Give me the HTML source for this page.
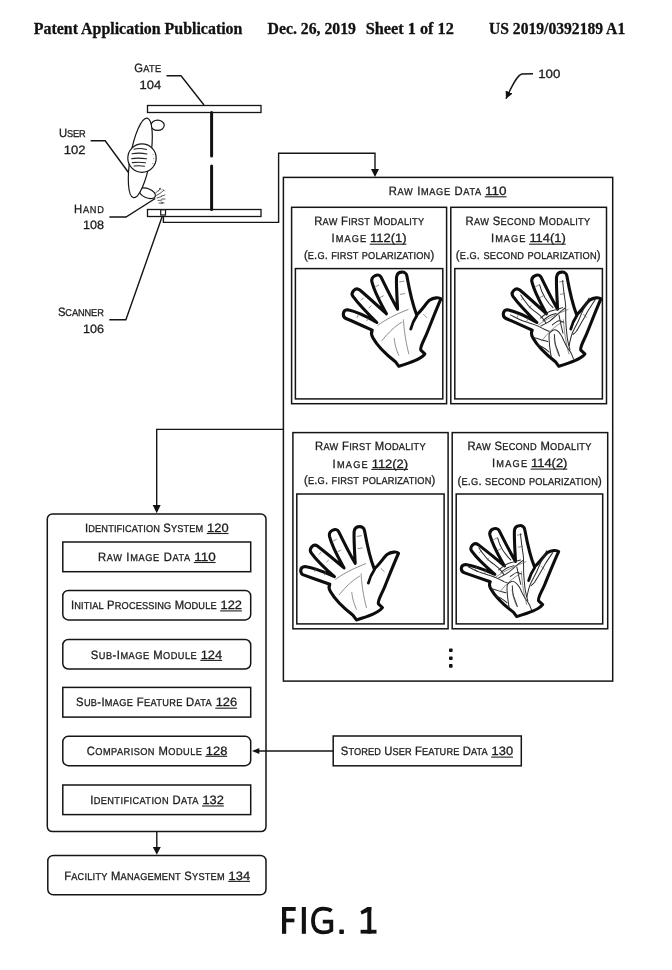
<!DOCTYPE html>
<html><head><meta charset="utf-8">
<style>
html,body{margin:0;padding:0;background:#fff;}
body{width:672px;height:970px;overflow:hidden;position:relative;}
svg{position:absolute;left:0;top:0;display:block;will-change:transform;}
.hd{font-family:"Liberation Serif",serif;font-weight:bold;font-size:16.3px;fill:#111;stroke:#111;stroke-width:0.3;}
.t{text-rendering:geometricPrecision;font-family:"Liberation Sans",sans-serif;fill:#1c1c1c;stroke:#1c1c1c;stroke-width:0.3;}
.u{text-decoration:underline;text-decoration-skip-ink:none;}
.ln{fill:none;stroke:#151515;stroke-width:1.4;}
.bx{fill:none;stroke:#151515;stroke-width:1.5;}
.hand{fill:#fff;stroke:#0d0d0d;stroke-linejoin:round;stroke-linecap:round;}
.crease{fill:none;stroke:#555;stroke-linecap:round;}
.vein{fill:none;stroke:#2a2a2a;stroke-linecap:round;}
</style></head><body>
<svg width="672" height="970" viewBox="0 0 672 970">
<defs>
<marker id="ah" viewBox="0 0 10 10" refX="10" refY="5" markerWidth="7.5" markerHeight="7.5" orient="auto" markerUnits="userSpaceOnUse">
<path d="M0,0 L10,5 L0,10 z" fill="#111"/>
</marker>
<g id="handA"><path class="hand" stroke-width="20" d="M208 402 C160 380 95 350 42 328 C12 316 15 270 50 270 C110 282 180 318 238 352 C190 305 125 240 85 185 C65 158 100 120 128 142 C185 190 250 250 300 296 C270 240 225 165 206 90 C198 50 252 30 266 60 C300 130 340 210 372 266 C368 180 363 120 365 60 C368 18 428 15 432 52 C447 135 467 232 495 302 C528 275 550 235 578 208 C605 190 640 188 652 200 C625 260 592 345 562 420 C542 470 515 510 522 530 L548 555 C520 590 460 610 380 635 L358 605 C300 560 240 500 212 450 C200 430 203 412 208 402 Z"/><path class="crease" stroke-width="4.5" stroke-dasharray="6 5" d="M245 370 C300 330 360 300 440 268"/><path class="crease" stroke-width="4.5" stroke-dasharray="6 5" d="M270 470 C310 420 350 380 400 350"/><path class="crease" stroke-width="4.5" stroke-dasharray="6 5" d="M350 455 C355 500 365 530 380 565"/><path class="crease" stroke-width="4.5" stroke-dasharray="6 5" d="M410 335 C415 420 430 500 445 555"/><path class="crease" stroke-width="4.5" stroke-dasharray="6 5" d="M120 300 L110 320"/><path class="crease" stroke-width="4.5" stroke-dasharray="6 5" d="M180 325 L172 345"/><path class="crease" stroke-width="4.5" stroke-dasharray="6 5" d="M150 195 L135 210"/><path class="crease" stroke-width="4.5" stroke-dasharray="6 5" d="M200 245 L185 260"/><path class="crease" stroke-width="4.5" stroke-dasharray="6 5" d="M230 120 L250 110"/><path class="crease" stroke-width="4.5" stroke-dasharray="6 5" d="M260 190 L280 180"/><path class="crease" stroke-width="4.5" stroke-dasharray="6 5" d="M385 90 L415 85"/><path class="crease" stroke-width="4.5" stroke-dasharray="6 5" d="M390 170 L420 165"/><path class="crease" stroke-width="4.5" stroke-dasharray="6 5" d="M540 300 L560 320"/><path fill="none" stroke="#0d0d0d" stroke-width="18" stroke-linecap="round" d="M457 395 C463 372 478 334 497 306"/></g><g id="handB"><path class="hand" stroke-width="20" d="M208 402 C160 380 95 350 42 328 C12 316 15 270 50 270 C110 282 180 318 238 352 C190 305 125 240 85 185 C65 158 100 120 128 142 C185 190 250 250 300 296 C270 240 225 165 206 90 C198 50 252 30 266 60 C300 130 340 210 372 266 C368 180 363 120 365 60 C368 18 428 15 432 52 C447 135 467 232 495 302 C528 275 550 235 578 208 C605 190 640 188 652 200 C625 260 592 345 562 420 C542 470 515 510 522 530 L548 555 C520 590 460 610 380 635 L358 605 C300 560 240 500 212 450 C200 430 203 412 208 402 Z"/><path class="vein" stroke-width="6.5" d="M331 575 C329 562 322 522 320 497 C318 473 315 442 318 426 C322 410 334 406 342 402 C351 398 360 399 368 404 C377 409 387 422 394 433 C402 444 407 459 413 472 C420 484 425 497 433 510 C440 523 452 536 459 549 C466 562 472 581 475 588"/><path class="vein" stroke-width="6.5" d="M351 429 C352 439 353 471 357 488 C360 505 367 516 371 530 C376 543 382 562 384 568"/><path class="vein" stroke-width="6.5" d="M338 368 C345 364 366 344 378 341 C390 338 406 350 412 351"/><path class="vein" stroke-width="6.5" d="M264 375 C274 369 304 356 324 341 C345 327 369 301 385 287 C401 274 413 265 419 260"/><path class="vein" stroke-width="6.5" d="M404 81 C405 90 408 116 410 134 C412 152 415 171 417 189 C420 207 422 217 424 242 C425 268 424 310 425 341 C426 372 430 406 432 429 C434 451 435 459 439 476 C442 493 450 521 452 530"/><path class="vein" stroke-width="6.5" d="M575 194 C570 205 554 234 543 258 C531 283 519 314 506 342 C493 370 475 400 465 426 C455 453 449 490 446 503"/><path class="vein" stroke-width="6.5" d="M614 207 C606 219 582 255 568 278 C555 300 546 319 533 341 C520 363 503 394 493 409 C482 423 475 426 472 429"/><path class="vein" stroke-width="6.5" d="M67 303 C78 308 113 327 134 336 C156 345 176 350 195 357 C214 363 232 369 249 377 C266 384 286 395 297 401 C309 406 314 407 318 409"/><path class="vein" stroke-width="6.5" d="M134 174 C139 181 151 202 162 215 C172 229 184 245 195 256 C206 267 216 273 229 283 C241 293 258 305 269 317 C281 329 293 348 297 355"/><path class="vein" stroke-width="6.5" d="M256 108 C258 115 264 135 269 149 C275 162 282 175 289 189 C297 202 308 217 317 229 C325 240 338 251 342 256"/><path class="vein" stroke-width="6.5" d="M262 323 C271 316 300 292 317 283 C333 274 349 274 363 269 C378 265 397 258 404 256"/><path class="vein" stroke-width="6.5" d="M278 339 C284 334 303 318 317 310 C331 303 354 297 362 294"/><path class="vein" stroke-width="6.5" d="M216 449 C224 451 248 458 264 463 C279 467 302 474 310 476"/><path class="vein" stroke-width="6.5" d="M245 497 C252 501 272 509 284 517 C296 524 311 538 317 543"/><path class="vein" stroke-width="6.5" d="M381 304 C383 314 390 349 394 368 C398 388 405 411 407 420"/><path class="crease" stroke-width="4.5" stroke-dasharray="6 5" d="M245 370 C300 330 360 300 440 268"/><path class="crease" stroke-width="4.5" stroke-dasharray="6 5" d="M270 470 C310 420 350 380 400 350"/><path class="crease" stroke-width="4.5" stroke-dasharray="6 5" d="M350 455 C355 500 365 530 380 565"/><path class="crease" stroke-width="4.5" stroke-dasharray="6 5" d="M410 335 C415 420 430 500 445 555"/><path class="crease" stroke-width="4.5" stroke-dasharray="6 5" d="M120 300 L110 320"/><path class="crease" stroke-width="4.5" stroke-dasharray="6 5" d="M180 325 L172 345"/><path class="crease" stroke-width="4.5" stroke-dasharray="6 5" d="M150 195 L135 210"/><path class="crease" stroke-width="4.5" stroke-dasharray="6 5" d="M200 245 L185 260"/><path class="crease" stroke-width="4.5" stroke-dasharray="6 5" d="M230 120 L250 110"/><path class="crease" stroke-width="4.5" stroke-dasharray="6 5" d="M260 190 L280 180"/><path class="crease" stroke-width="4.5" stroke-dasharray="6 5" d="M385 90 L415 85"/><path class="crease" stroke-width="4.5" stroke-dasharray="6 5" d="M390 170 L420 165"/><path class="crease" stroke-width="4.5" stroke-dasharray="6 5" d="M540 300 L560 320"/><path fill="none" stroke="#0d0d0d" stroke-width="18" stroke-linecap="round" d="M457 395 C463 372 478 334 497 306"/></g><g id="handA2"><path class="hand" stroke-width="20" d="M208 402 C160 385 95 362 42 343 C12 333 12 288 48 286 C110 295 180 325 238 352 C190 310 125 250 88 197 C70 170 102 133 130 154 C185 198 250 252 300 296 C270 240 225 165 206 90 C198 50 252 30 266 60 C300 130 340 210 372 266 C368 180 363 120 365 60 C368 18 428 15 432 52 C447 135 467 232 495 302 C528 275 550 235 578 208 C605 190 640 188 652 200 C625 260 592 345 562 420 C542 470 515 510 522 530 L548 555 C520 590 460 610 380 635 L358 605 C300 560 240 500 212 450 C200 430 203 412 208 402 Z"/><path class="crease" stroke-width="4.5" stroke-dasharray="6 5" d="M245 370 C300 330 360 300 440 268"/><path class="crease" stroke-width="4.5" stroke-dasharray="6 5" d="M270 470 C310 420 350 380 400 350"/><path class="crease" stroke-width="4.5" stroke-dasharray="6 5" d="M350 455 C355 500 365 530 380 565"/><path class="crease" stroke-width="4.5" stroke-dasharray="6 5" d="M410 335 C415 420 430 500 445 555"/><path class="crease" stroke-width="4.5" stroke-dasharray="6 5" d="M120 300 L110 320"/><path class="crease" stroke-width="4.5" stroke-dasharray="6 5" d="M180 325 L172 345"/><path class="crease" stroke-width="4.5" stroke-dasharray="6 5" d="M150 195 L135 210"/><path class="crease" stroke-width="4.5" stroke-dasharray="6 5" d="M200 245 L185 260"/><path class="crease" stroke-width="4.5" stroke-dasharray="6 5" d="M230 120 L250 110"/><path class="crease" stroke-width="4.5" stroke-dasharray="6 5" d="M260 190 L280 180"/><path class="crease" stroke-width="4.5" stroke-dasharray="6 5" d="M385 90 L415 85"/><path class="crease" stroke-width="4.5" stroke-dasharray="6 5" d="M390 170 L420 165"/><path class="crease" stroke-width="4.5" stroke-dasharray="6 5" d="M540 300 L560 320"/><path fill="none" stroke="#0d0d0d" stroke-width="18" stroke-linecap="round" d="M457 395 C463 372 478 334 497 306"/></g><g id="handB2"><path class="hand" stroke-width="20" d="M208 402 C160 385 95 362 42 343 C12 333 12 288 48 286 C110 295 180 325 238 352 C190 310 125 250 88 197 C70 170 102 133 130 154 C185 198 250 252 300 296 C270 240 225 165 206 90 C198 50 252 30 266 60 C300 130 340 210 372 266 C368 180 363 120 365 60 C368 18 428 15 432 52 C447 135 467 232 495 302 C528 275 550 235 578 208 C605 190 640 188 652 200 C625 260 592 345 562 420 C542 470 515 510 522 530 L548 555 C520 590 460 610 380 635 L358 605 C300 560 240 500 212 450 C200 430 203 412 208 402 Z"/><path class="vein" stroke-width="6.5" d="M331 575 C329 562 322 522 320 497 C318 473 315 442 318 426 C322 410 334 406 342 402 C351 398 360 399 368 404 C377 409 387 422 394 433 C402 444 407 459 413 472 C420 484 425 497 433 510 C440 523 452 536 459 549 C466 562 472 581 475 588"/><path class="vein" stroke-width="6.5" d="M351 429 C352 439 353 471 357 488 C360 505 367 516 371 530 C376 543 382 562 384 568"/><path class="vein" stroke-width="6.5" d="M338 368 C345 364 366 344 378 341 C390 338 406 350 412 351"/><path class="vein" stroke-width="6.5" d="M264 375 C274 369 304 356 324 341 C345 327 369 301 385 287 C401 274 413 265 419 260"/><path class="vein" stroke-width="6.5" d="M404 81 C405 90 408 116 410 134 C412 152 415 171 417 189 C420 207 422 217 424 242 C425 268 424 310 425 341 C426 372 430 406 432 429 C434 451 435 459 439 476 C442 493 450 521 452 530"/><path class="vein" stroke-width="6.5" d="M575 194 C570 205 554 234 543 258 C531 283 519 314 506 342 C493 370 475 400 465 426 C455 453 449 490 446 503"/><path class="vein" stroke-width="6.5" d="M614 207 C606 219 582 255 568 278 C555 300 546 319 533 341 C520 363 503 394 493 409 C482 423 475 426 472 429"/><path class="vein" stroke-width="6.5" d="M67 303 C78 308 113 327 134 336 C156 345 176 350 195 357 C214 363 232 369 249 377 C266 384 286 395 297 401 C309 406 314 407 318 409"/><path class="vein" stroke-width="6.5" d="M134 174 C139 181 151 202 162 215 C172 229 184 245 195 256 C206 267 216 273 229 283 C241 293 258 305 269 317 C281 329 293 348 297 355"/><path class="vein" stroke-width="6.5" d="M256 108 C258 115 264 135 269 149 C275 162 282 175 289 189 C297 202 308 217 317 229 C325 240 338 251 342 256"/><path class="vein" stroke-width="6.5" d="M262 323 C271 316 300 292 317 283 C333 274 349 274 363 269 C378 265 397 258 404 256"/><path class="vein" stroke-width="6.5" d="M278 339 C284 334 303 318 317 310 C331 303 354 297 362 294"/><path class="vein" stroke-width="6.5" d="M216 449 C224 451 248 458 264 463 C279 467 302 474 310 476"/><path class="vein" stroke-width="6.5" d="M245 497 C252 501 272 509 284 517 C296 524 311 538 317 543"/><path class="vein" stroke-width="6.5" d="M381 304 C383 314 390 349 394 368 C398 388 405 411 407 420"/><path class="crease" stroke-width="4.5" stroke-dasharray="6 5" d="M245 370 C300 330 360 300 440 268"/><path class="crease" stroke-width="4.5" stroke-dasharray="6 5" d="M270 470 C310 420 350 380 400 350"/><path class="crease" stroke-width="4.5" stroke-dasharray="6 5" d="M350 455 C355 500 365 530 380 565"/><path class="crease" stroke-width="4.5" stroke-dasharray="6 5" d="M410 335 C415 420 430 500 445 555"/><path class="crease" stroke-width="4.5" stroke-dasharray="6 5" d="M120 300 L110 320"/><path class="crease" stroke-width="4.5" stroke-dasharray="6 5" d="M180 325 L172 345"/><path class="crease" stroke-width="4.5" stroke-dasharray="6 5" d="M150 195 L135 210"/><path class="crease" stroke-width="4.5" stroke-dasharray="6 5" d="M200 245 L185 260"/><path class="crease" stroke-width="4.5" stroke-dasharray="6 5" d="M230 120 L250 110"/><path class="crease" stroke-width="4.5" stroke-dasharray="6 5" d="M260 190 L280 180"/><path class="crease" stroke-width="4.5" stroke-dasharray="6 5" d="M385 90 L415 85"/><path class="crease" stroke-width="4.5" stroke-dasharray="6 5" d="M390 170 L420 165"/><path class="crease" stroke-width="4.5" stroke-dasharray="6 5" d="M540 300 L560 320"/><path fill="none" stroke="#0d0d0d" stroke-width="18" stroke-linecap="round" d="M457 395 C463 372 478 334 497 306"/></g></defs>
<text class="hd" x="33.8" y="34" textLength="208.6" lengthAdjust="spacingAndGlyphs">Patent Application Publication</text>
<text class="hd" x="267.6" y="34" textLength="88.4" lengthAdjust="spacingAndGlyphs">Dec. 26, 2019</text>
<text class="hd" x="365.7" y="34" textLength="88.1" lengthAdjust="spacingAndGlyphs">Sheet 1 of 12</text>
<text class="hd" x="489" y="34" textLength="136.2" lengthAdjust="spacingAndGlyphs">US 2019/0392189 A1</text>
<text class="t" transform="translate(134.25,71.70) scale(0.930,1)" x="0" y="0" font-size="12.10" textLength="28.82" lengthAdjust="spacing">G<tspan font-size="9.92">ATE</tspan></text>
<text class="t" transform="translate(139.60,89.40) scale(1.000,1)" x="0" y="0" font-size="12.10" textLength="21.70" lengthAdjust="spacingAndGlyphs">104</text>
<text class="t" transform="translate(59.05,137.10) scale(0.930,1)" x="0" y="0" font-size="12.10" textLength="28.60" lengthAdjust="spacing">U<tspan font-size="9.92">SER</tspan></text>
<text class="t" transform="translate(63.80,153.75) scale(1.000,1)" x="0" y="0" font-size="12.10" textLength="21.70" lengthAdjust="spacingAndGlyphs">102</text>
<text class="t" transform="translate(74.05,212.50) scale(0.930,1)" x="0" y="0" font-size="12.10" textLength="32.15" lengthAdjust="spacing">H<tspan font-size="9.92">AND</tspan></text>
<text class="t" transform="translate(83.10,229.10) scale(1.000,1)" x="0" y="0" font-size="12.10" textLength="21.00" lengthAdjust="spacingAndGlyphs">108</text>
<text class="t" transform="translate(57.95,315.70) scale(0.930,1)" x="0" y="0" font-size="12.10" textLength="49.35" lengthAdjust="spacing">S<tspan font-size="9.92">CANNER</tspan></text>
<text class="t" transform="translate(83.10,332.90) scale(1.000,1)" x="0" y="0" font-size="12.10" textLength="21.00" lengthAdjust="spacingAndGlyphs">106</text>
<text class="t" transform="translate(538.20,78.10) scale(1.000,1)" x="0" y="0" font-size="12.10" textLength="22.20" lengthAdjust="spacingAndGlyphs">100</text>
<polyline class="ln" points="166.5,75.8 181,75.8 204,105"/>
<polyline class="ln" points="90.6,140.8 105.2,140.8 129.2,173.5"/>
<polyline class="ln" points="109.4,217 126,217 155.2,198.5"/>
<polyline class="ln" points="109.3,319.8 125.9,319.8 162.9,214.5"/>
<path class="ln" d="M533,73.7 L522,74 C518,75 514,81 506,98.8" marker-end="url(#ah)"/>
<rect x="147.5" y="105.5" width="113.5" height="7" fill="#fff" stroke="#151515" stroke-width="1.3"/>
<rect x="147.5" y="209.5" width="113.5" height="7" fill="#fff" stroke="#151515" stroke-width="1.3"/>
<line x1="211.6" y1="112.5" x2="211.6" y2="156" stroke="#111" stroke-width="3" stroke-linecap="round"/>
<line x1="211.6" y1="166" x2="211.6" y2="209.5" stroke="#111" stroke-width="3" stroke-linecap="round"/>
<rect x="160.7" y="209.8" width="4.8" height="5.2" fill="#fff" stroke="#151515" stroke-width="1.2"/>
<g fill="#fff" stroke="#151515" stroke-width="1.2">
<ellipse cx="157.6" cy="125.3" rx="6.7" ry="5.1"/>
<ellipse cx="147.3" cy="193.2" rx="8.6" ry="4.6" transform="rotate(22 147.3 193.2)"/>
<ellipse cx="140.3" cy="157.9" rx="10" ry="40.3" transform="rotate(9.8 140.3 157.9)"/>
<circle cx="142" cy="158.1" r="14.2"/>
</g>
<g stroke="#222" stroke-width="1.1" fill="none" stroke-linecap="round">
<path d="M134,149.2 C138,148 142,148.3 146.5,149.5"/>
<path d="M132,153.8 C137,152.8 142,153 147,154"/>
<path d="M131.8,158.6 C136,157.8 141,158 146.5,158.8"/>
<path d="M132.3,162.6 C137,162 141,162 145.5,162.8"/>
<path d="M134,166 C137.5,165.6 141,165.6 144.5,166.2"/>
</g>
<g stroke="#666" stroke-width="0.8" fill="none" stroke-dasharray="1.2 1">
<path d="M152.5,154 l1.5,1.5 M153.5,158 l1,2 M152.5,163 l1,2"/>
</g>
<g stroke="#333" stroke-width="0.8" fill="none" stroke-linecap="round">
<path d="M155.5,193 l3,-2.5 M156,195.5 l4,-2 M157,198 l4.5,-1.5 M158,200.5 l4,-0.5 M159,203 l3.5,0.5"/>
<path d="M158.5,191 l2,-3 M160.5,193 l3,-2.5 M161.5,196 l3.5,-1 M162,199 l3,0 M161,202 l3,1"/>
<path d="M159.5,188.5 l1.5,1 M163,189.5 l1.5,1.5"/>
</g>
<polyline class="ln" points="163.4,216 163.4,222.4 278.6,222.4 278.6,153.2 375,153.2 375,169"/>
<path d="M371,169 L379,169 L375,177 z" fill="#111"/>
<rect class="bx" x="283.4" y="177.4" width="329.3" height="503.7"/>
<text class="t" transform="translate(388.85,195.00) scale(0.930,1)" x="0" y="0" font-size="12.10" textLength="99.26" lengthAdjust="spacing">R<tspan font-size="9.92">AW</tspan> I<tspan font-size="9.92">MAGE</tspan> D<tspan font-size="9.92">ATA</tspan></text>
<text class="t" transform="translate(485.11,195.00) scale(1.000,1)" x="0" y="0" font-size="12.10" textLength="21.49" lengthAdjust="spacingAndGlyphs">110</text>
<rect class="bx" x="291.6" y="207.3" width="155" height="196.4"/>
<rect class="bx" x="295.4" y="268.6" width="147.4" height="130.3"/>
<rect class="bx" x="450.8" y="207.3" width="155.7" height="196.4"/>
<rect class="bx" x="454.8" y="268.6" width="147.6" height="130.3"/>
<text class="t" transform="translate(314.25,225.20) scale(0.930,1)" x="0" y="0" font-size="12.10" textLength="118.17" lengthAdjust="spacing">R<tspan font-size="9.92">AW</tspan> F<tspan font-size="9.92">IRST</tspan> M<tspan font-size="9.92">ODALITY</tspan></text>
<text class="t" transform="translate(331.45,242.40) scale(0.930,1)" x="0" y="0" font-size="12.10" textLength="37.29" lengthAdjust="spacing">I<tspan font-size="9.92">MAGE</tspan></text>
<text class="t" transform="translate(370.08,242.40) scale(1.000,1)" x="0" y="0" font-size="12.10" textLength="36.42" lengthAdjust="spacingAndGlyphs">112(1)</text>
<text class="t" transform="translate(303.95,259.10) scale(0.930,1)" x="0" y="0" font-size="12.10" textLength="140.00" lengthAdjust="spacing">(<tspan font-size="9.92">E</tspan>.<tspan font-size="9.92">G</tspan>. <tspan font-size="9.92">FIRST</tspan> <tspan font-size="9.92">POLARIZATION</tspan>)</text>
<text class="t" transform="translate(465.55,225.00) scale(0.930,1)" x="0" y="0" font-size="12.10" textLength="134.09" lengthAdjust="spacing">R<tspan font-size="9.92">AW</tspan> S<tspan font-size="9.92">ECOND</tspan> M<tspan font-size="9.92">ODALITY</tspan></text>
<text class="t" transform="translate(490.95,242.40) scale(0.930,1)" x="0" y="0" font-size="12.10" textLength="37.08" lengthAdjust="spacing">I<tspan font-size="9.92">MAGE</tspan></text>
<text class="t" transform="translate(529.38,242.40) scale(1.000,1)" x="0" y="0" font-size="12.10" textLength="36.42" lengthAdjust="spacingAndGlyphs">114(1)</text>
<text class="t" transform="translate(455.85,259.10) scale(0.930,1)" x="0" y="0" font-size="12.10" textLength="155.59" lengthAdjust="spacing">(<tspan font-size="9.92">E</tspan>.<tspan font-size="9.92">G</tspan>. <tspan font-size="9.92">SECOND</tspan> <tspan font-size="9.92">POLARIZATION</tspan>)</text>
<rect class="bx" x="292.9" y="432.6" width="155.2" height="196.2"/>
<rect class="bx" x="296.8" y="494" width="147.3" height="129.9"/>
<rect class="bx" x="452.2" y="432.6" width="155.5" height="196.2"/>
<rect class="bx" x="456.2" y="494" width="146.5" height="129.9"/>
<text class="t" transform="translate(315.05,449.80) scale(0.930,1)" x="0" y="0" font-size="12.10" textLength="118.92" lengthAdjust="spacing">R<tspan font-size="9.92">AW</tspan> F<tspan font-size="9.92">IRST</tspan> M<tspan font-size="9.92">ODALITY</tspan></text>
<text class="t" transform="translate(332.55,467.60) scale(0.930,1)" x="0" y="0" font-size="12.10" textLength="37.83" lengthAdjust="spacing">I<tspan font-size="9.92">MAGE</tspan></text>
<text class="t" transform="translate(371.68,467.60) scale(1.000,1)" x="0" y="0" font-size="12.10" textLength="36.42" lengthAdjust="spacingAndGlyphs">112(2)</text>
<text class="t" transform="translate(304.05,484.30) scale(0.930,1)" x="0" y="0" font-size="12.10" textLength="141.08" lengthAdjust="spacing">(<tspan font-size="9.92">E</tspan>.<tspan font-size="9.92">G</tspan>. <tspan font-size="9.92">FIRST</tspan> <tspan font-size="9.92">POLARIZATION</tspan>)</text>
<text class="t" transform="translate(467.45,450.00) scale(0.930,1)" x="0" y="0" font-size="12.10" textLength="133.23" lengthAdjust="spacing">R<tspan font-size="9.92">AW</tspan> S<tspan font-size="9.92">ECOND</tspan> M<tspan font-size="9.92">ODALITY</tspan></text>
<text class="t" transform="translate(492.05,467.30) scale(0.930,1)" x="0" y="0" font-size="12.10" textLength="37.61" lengthAdjust="spacing">I<tspan font-size="9.92">MAGE</tspan></text>
<text class="t" transform="translate(530.98,467.30) scale(1.000,1)" x="0" y="0" font-size="12.10" textLength="36.42" lengthAdjust="spacingAndGlyphs">114(2)</text>
<text class="t" transform="translate(457.55,484.60) scale(0.930,1)" x="0" y="0" font-size="12.10" textLength="155.05" lengthAdjust="spacing">(<tspan font-size="9.92">E</tspan>.<tspan font-size="9.92">G</tspan>. <tspan font-size="9.92">SECOND</tspan> <tspan font-size="9.92">POLARIZATION</tspan>)</text>
<use href="#handA" transform="translate(340,268) scale(0.15480)"/>
<use href="#handB" transform="translate(500,268) scale(0.15480)"/>
<use href="#handA2" transform="translate(297.6,522.6) scale(0.15480,0.15325)"/>
<use href="#handB2" transform="translate(458.2,521.7) scale(0.15402,0.14938)"/>
<rect x="449" y="648.5" width="3.6" height="3.6" rx="0.8" fill="#111"/>
<rect x="449" y="656.5" width="3.6" height="3.6" rx="0.8" fill="#111"/>
<rect x="449" y="664.1" width="3.6" height="3.6" rx="0.8" fill="#111"/>
<polyline class="ln" points="283.4,429.4 156.7,429.4 156.7,505"/>
<path d="M152.7,505 L160.7,505 L156.7,513.2 z" fill="#111"/>
<rect class="bx" x="47.3" y="514" width="218.7" height="317.6" rx="5"/>
<rect class="bx" x="62.8" y="542" width="187.9" height="29.7"/>
<rect class="bx" x="62.8" y="590.4" width="187.9" height="29.5" rx="5.5"/>
<rect class="bx" x="62.8" y="639.5" width="187.9" height="29.5" rx="5.5"/>
<rect class="bx" x="62.8" y="687.4" width="187.9" height="29.7"/>
<rect class="bx" x="62.8" y="736.3" width="187.9" height="29.4" rx="5.5"/>
<rect class="bx" x="62.8" y="785" width="187.9" height="29.6"/>
<rect class="bx" x="333.2" y="736" width="188.1" height="29.8"/>
<line class="ln" x1="333.2" y1="751" x2="259" y2="751"/>
<path d="M259.3,747.9 L259.3,754.1 L252,751 z" fill="#111"/>
<line class="ln" x1="156.8" y1="831.6" x2="156.8" y2="847"/>
<path d="M152.8,847 L160.8,847 L156.8,854.8 z" fill="#111"/>
<rect class="bx" x="47.8" y="855.4" width="218.2" height="39.4" rx="5.5"/>
<text class="t" transform="translate(85.05,531.70) scale(0.930,1)" x="0" y="0" font-size="12.10" textLength="127.00" lengthAdjust="spacing">I<tspan font-size="9.92">DENTIFICATION</tspan> S<tspan font-size="9.92">YSTEM</tspan></text>
<text class="t" transform="translate(207.11,531.70) scale(1.000,1)" x="0" y="0" font-size="12.10" textLength="21.49" lengthAdjust="spacingAndGlyphs">120</text>
<text class="t" transform="translate(98.05,560.70) scale(0.930,1)" x="0" y="0" font-size="12.10" textLength="99.15" lengthAdjust="spacing">R<tspan font-size="9.92">AW</tspan> I<tspan font-size="9.92">MAGE</tspan> D<tspan font-size="9.92">ATA</tspan></text>
<text class="t" transform="translate(194.21,560.70) scale(1.000,1)" x="0" y="0" font-size="12.10" textLength="21.49" lengthAdjust="spacingAndGlyphs">110</text>
<text class="t" transform="translate(70.95,609.10) scale(0.930,1)" x="0" y="0" font-size="12.10" textLength="156.57" lengthAdjust="spacing">I<tspan font-size="9.92">NITIAL</tspan> P<tspan font-size="9.92">ROCESSING</tspan> M<tspan font-size="9.92">ODULE</tspan></text>
<text class="t" transform="translate(220.51,609.10) scale(1.000,1)" x="0" y="0" font-size="12.10" textLength="21.49" lengthAdjust="spacingAndGlyphs">122</text>
<text class="t" transform="translate(90.75,658.60) scale(0.930,1)" x="0" y="0" font-size="12.10" textLength="113.99" lengthAdjust="spacing">S<tspan font-size="9.92">UB</tspan>-I<tspan font-size="9.92">MAGE</tspan> M<tspan font-size="9.92">ODULE</tspan></text>
<text class="t" transform="translate(200.71,658.60) scale(1.000,1)" x="0" y="0" font-size="12.10" textLength="21.49" lengthAdjust="spacingAndGlyphs">124</text>
<text class="t" transform="translate(76.05,706.40) scale(0.930,1)" x="0" y="0" font-size="12.10" textLength="145.92" lengthAdjust="spacing">S<tspan font-size="9.92">UB</tspan>-I<tspan font-size="9.92">MAGE</tspan> F<tspan font-size="9.92">EATURE</tspan> D<tspan font-size="9.92">ATA</tspan></text>
<text class="t" transform="translate(215.71,706.40) scale(1.000,1)" x="0" y="0" font-size="12.10" textLength="21.49" lengthAdjust="spacingAndGlyphs">126</text>
<text class="t" transform="translate(86.75,754.50) scale(0.930,1)" x="0" y="0" font-size="12.10" textLength="123.77" lengthAdjust="spacing">C<tspan font-size="9.92">OMPARISON</tspan> M<tspan font-size="9.92">ODULE</tspan></text>
<text class="t" transform="translate(205.81,754.50) scale(1.000,1)" x="0" y="0" font-size="12.10" textLength="21.49" lengthAdjust="spacingAndGlyphs">128</text>
<text class="t" transform="translate(90.15,804.20) scale(0.930,1)" x="0" y="0" font-size="12.10" textLength="116.46" lengthAdjust="spacing">I<tspan font-size="9.92">DENTIFICATION</tspan> D<tspan font-size="9.92">ATA</tspan></text>
<text class="t" transform="translate(202.41,804.20) scale(1.000,1)" x="0" y="0" font-size="12.10" textLength="21.49" lengthAdjust="spacingAndGlyphs">132</text>
<text class="t" transform="translate(340.85,755.30) scale(0.930,1)" x="0" y="0" font-size="12.10" textLength="157.86" lengthAdjust="spacing">S<tspan font-size="9.92">TORED</tspan> U<tspan font-size="9.92">SER</tspan> F<tspan font-size="9.92">EATURE</tspan> D<tspan font-size="9.92">ATA</tspan></text>
<text class="t" transform="translate(491.61,755.30) scale(1.000,1)" x="0" y="0" font-size="12.10" textLength="21.49" lengthAdjust="spacingAndGlyphs">130</text>
<text class="t" transform="translate(64.15,879.60) scale(0.930,1)" x="0" y="0" font-size="12.10" textLength="172.59" lengthAdjust="spacing">F<tspan font-size="9.92">ACILITY</tspan> M<tspan font-size="9.92">ANAGEMENT</tspan> S<tspan font-size="9.92">YSTEM</tspan></text>
<text class="t" transform="translate(228.61,879.60) scale(1.000,1)" x="0" y="0" font-size="12.10" textLength="21.49" lengthAdjust="spacingAndGlyphs">134</text>
<g fill="#111">
<rect x="282" y="907" width="4.2" height="26.8"/>
<rect x="282" y="907" width="13.7" height="3.9"/>
<rect x="282" y="918.6" width="12.4" height="3.7"/>
<rect x="301.8" y="907" width="4.1" height="26.8"/>
<rect x="339.3" y="929.6" width="4.6" height="4.4" rx="0.8"/>
<rect x="367.3" y="907" width="4" height="26.6"/>
<rect x="360.6" y="929.8" width="15.9" height="3.8"/>
<path d="M367.5,907 L371.3,907 L371.3,910.6 L361.6,914.4 L360.5,911.2 Z"/>
</g>
<path d="M331.5,911 C329.5,909.3 326.5,908.6 323,908.6 C316.5,908.6 313,913.8 313,920.6 C313,928 316.5,932.4 323,932.4 C326.2,932.4 329.3,931.6 331.3,930.2 L331.3,921.6 L322.8,921.6" fill="none" stroke="#111" stroke-width="3.8"/>
<rect x="484.71" y="196.25" width="21.79" height="1.1" fill="#222"/>
<rect x="369.68" y="243.65" width="36.72" height="1.1" fill="#222"/>
<rect x="528.98" y="243.65" width="36.72" height="1.1" fill="#222"/>
<rect x="371.28" y="468.85" width="36.72" height="1.1" fill="#222"/>
<rect x="530.58" y="468.55" width="36.72" height="1.1" fill="#222"/>
<rect x="206.71" y="532.95" width="21.79" height="1.1" fill="#222"/>
<rect x="193.81" y="561.95" width="21.79" height="1.1" fill="#222"/>
<rect x="220.11" y="610.35" width="21.79" height="1.1" fill="#222"/>
<rect x="200.31" y="659.85" width="21.79" height="1.1" fill="#222"/>
<rect x="215.31" y="707.65" width="21.79" height="1.1" fill="#222"/>
<rect x="205.41" y="755.75" width="21.79" height="1.1" fill="#222"/>
<rect x="202.01" y="805.45" width="21.79" height="1.1" fill="#222"/>
<rect x="491.21" y="756.55" width="21.79" height="1.1" fill="#222"/>
<rect x="228.21" y="880.85" width="21.79" height="1.1" fill="#222"/>
</svg>
</body></html>
